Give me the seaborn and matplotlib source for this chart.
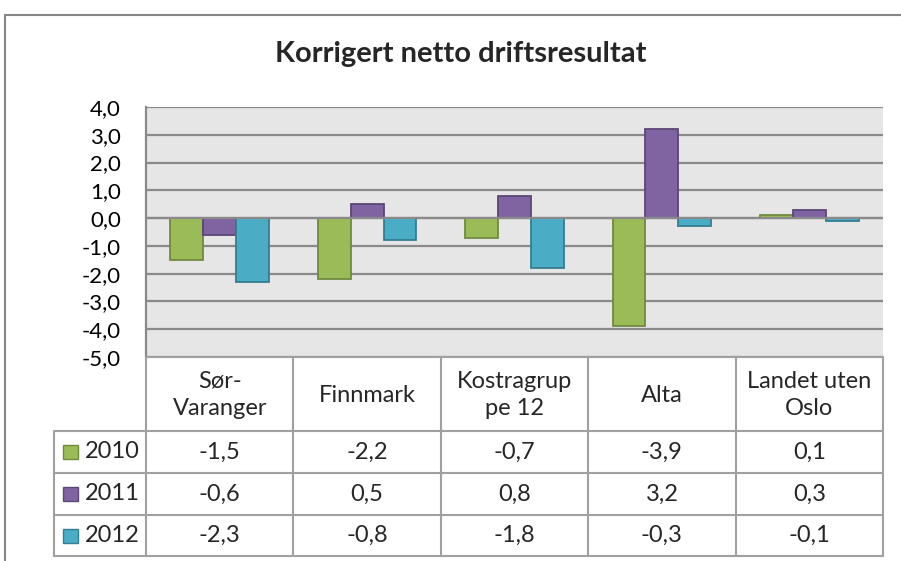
import matplotlib
matplotlib.use("Agg")
import matplotlib.pyplot as plt
import seaborn as sns
import pandas as pd
from matplotlib.lines import Line2D
from matplotlib.patches import Rectangle

categories = ["Sør-\nVaranger", "Finnmark", "Kostragrup\npe 12", "Alta", "Landet uten\nOslo"]
years = ["2010", "2011", "2012"]
v2010 = [-1.5, -2.2, -0.7, -3.9, 0.1]
v2011 = [-0.6, 0.5, 0.8, 3.2, 0.3]
v2012 = [-2.3, -0.8, -1.8, -0.3, -0.1]
yticks = [4, 3, 2, 1, 0, -1, -2, -3, -4, -5]
title = "Korrigert netto driftsresultat"

fill_colors = ["#9BBB59", "#8064A2", "#4BACC6"]
edge_colors = ["#71893F", "#5C4776", "#357D91"]

series = [v2010, v2011, v2012]
df = pd.DataFrame({
    "kategori": [c for s in series for c in categories],
    "år": [y for y, s in zip(years, series) for _ in s],
    "verdi": [v for s in series for v in s],
})

sns.set_theme(style="white")
plt.rcParams["font.family"] = ["Lato", "DejaVu Sans"]

W, H = 901, 561
fig = plt.figure(figsize=(W / 100, H / 100), dpi=100)

def fx(px):
    return px / W

def fy(py):
    return 1 - py / H

ax_left, ax_right, ax_top, ax_bot = 146, 883, 107, 357
ax = fig.add_axes([fx(ax_left), fy(ax_bot), fx(ax_right - ax_left), (ax_bot - ax_top) / H])
ax.set_facecolor("#E6E6E6")

sns.barplot(data=df, x="kategori", y="verdi", hue="år", palette=fill_colors,
            width=0.67, ax=ax, legend=False, saturation=1, zorder=3)
for cont, ec in zip(ax.containers, edge_colors):
    for bar in cont:
        bar.set_edgecolor(ec)
        bar.set_linewidth(1.3)

ax.set_xlim(-0.5, len(categories) - 0.5)
ax.set_ylim(-5, 4)
ax.set_yticks(yticks)
ax.set_yticklabels([f"{t:.1f}".replace(".", ",") for t in yticks], fontsize=16)
ax.tick_params(axis="y", length=0, pad=18, colors="black")
ax.set_xticks([])
ax.set_xlabel("")
ax.set_ylabel("")
for t in yticks:
    ax.axhline(t, color="#8A8A8A", lw=1.6, zorder=1)
ax.axhline(0, color="#8A8A8A", lw=1.6, zorder=4)
for s in ["top", "right", "bottom"]:
    ax.spines[s].set_visible(False)
ax.spines["left"].set_color("#8A8A8A")
ax.spines["left"].set_linewidth(1.6)

fig.text(fx(460.5), fy(62), title, ha="center", va="baseline", fontsize=21, fontweight="bold")

# data table
tab_top, tab_bot = 357, 556
hdr_bot = 431
row_edges = [431, 473, 515, 556]
tab = fig.add_axes([fx(ax_left), fy(tab_bot), fx(ax_right - ax_left), (tab_bot - tab_top) / H])
tab.set_xlim(-0.5, len(categories) - 0.5)
tab.set_ylim(tab_bot, tab_top)
tab.axis("off")
px_per_cat = (ax_right - ax_left) / len(categories)
leg_left = -0.5 - (146 - 54) / px_per_cat
lc = "#A0A0A0"
lw = 1.5
tab.plot([-0.5, len(categories) - 0.5], [tab_top, tab_top], color=lc, lw=lw, clip_on=False)
for ye in row_edges:
    tab.plot([leg_left, len(categories) - 0.5], [ye, ye], color=lc, lw=lw, clip_on=False)
for i in range(len(categories) + 1):
    tab.plot([i - 0.5, i - 0.5], [tab_top, tab_bot], color=lc, lw=lw, clip_on=False)
tab.plot([leg_left, leg_left], [hdr_bot, tab_bot], color=lc, lw=lw, clip_on=False)

for i, c in enumerate(categories):
    tab.text(i, (tab_top + hdr_bot) / 2 + 1, c, ha="center", va="center", fontsize=17, linespacing=1.4)
for r, (yr, s) in enumerate(zip(years, series)):
    yc = (row_edges[r] + row_edges[r + 1]) / 2
    for i, v in enumerate(s):
        tab.text(i, yc, f"{v:.1f}".replace(".", ","), ha="center", va="center", fontsize=17)
    kx = leg_left + 9 / px_per_cat
    tab.add_patch(Rectangle((kx, yc - 7), 15 / px_per_cat, 14, facecolor=fill_colors[r],
                            edgecolor=edge_colors[r], lw=1, clip_on=False))
    tab.text(leg_left + 31 / px_per_cat, yc, yr, ha="left", va="center", fontsize=17)

# outer chart border
fig.add_artist(Line2D([fx(5), 1], [fy(15), fy(15)], color="#868686", lw=1.5))
fig.add_artist(Line2D([fx(5), fx(5)], [fy(15), 0], color="#868686", lw=1.5))

fig.savefig("out.png", dpi=100, facecolor="white")
